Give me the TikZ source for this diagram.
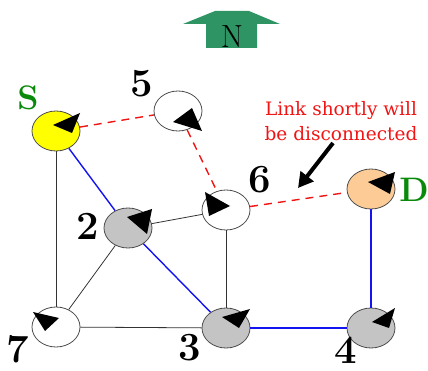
\documentclass[tikz,border=0pt]{standalone}
\usepackage{fontspec}
\newfontfamily\notefont{DejaVu Serif}
\usetikzlibrary{arrows.meta,shapes.geometric}
\definecolor{NorthGreen}{HTML}{2E9464}
\definecolor{LabelGreen}{HTML}{0A8A0A}
\definecolor{SourceYellow}{HTML}{FFFF00}
\definecolor{DestPeach}{HTML}{FCCB96}
\definecolor{HopGray}{HTML}{C4C4C4}
\definecolor{RouteBlue}{HTML}{1414F0}
\definecolor{BreakRed}{HTML}{F01414}

\begin{document}
\begin{tikzpicture}[
	x=1pt, y=-1pt,
	host/.style={
		draw=black!70,
		ellipse,
		minimum width=48pt,
		minimum height=40pt,
		inner sep=0pt,
		line width=0.8pt
	},
	idlabel/.style={font=\fontsize{40}{40}\selectfont\bfseries},
	endlabel/.style={font=\fontsize{34}{34}\selectfont\bfseries, text=LabelGreen},
	link/.style={draw=black!80, line width=0.8pt},
	route/.style={draw=RouteBlue, line width=1.4pt},
	breaking/.style={draw=BreakRed, line width=1.4pt, dash pattern=on 8pt off 6pt},
	heading/.style={fill=black}
]
\useasboundingbox (0,0) rectangle (428,371);

% north marker
\fill[NorthGreen] (206,48) -- (206,24) -- (183,24) -- (215,11) -- (249,11)
	-- (280,24) -- (257,24) -- (257,48) -- cycle;
\node[font=\fontsize{32}{32}\selectfont] (north) at (232,37) {N};

% hosts
\node[host, fill=SourceYellow] (s) at (56,131) {};
\node[host, fill=white] (n5) at (178,111) {};
\node[host, fill=DestPeach] (d) at (371,189) {};
\node[host, fill=white] (n6) at (226,210) {};
\node[host, fill=HopGray] (n2) at (128,228) {};
\node[host, fill=white] (n7) at (56,327) {};
\node[host, fill=HopGray] (n3) at (226,328) {};
\node[host, fill=HopGray] (n4) at (371,328) {};

% host names
\node[endlabel] (slabel) at (28,98) {S};
\node[endlabel] (dlabel) at (414,190) {D};
\node[idlabel] (l5) at (142,84) {5};
\node[idlabel] (l6) at (260,180) {6};
\node[idlabel] (l2) at (88,226) {2};
\node[idlabel] (l7) at (18,349) {7};
\node[idlabel] (l3) at (190,348) {3};
\node[idlabel] (l4) at (346,350) {4};

% links
\draw[link] (s) -- (n7);
\draw[link] (n7) -- (n3);
\draw[link] (n7) -- (n2);
\draw[link] (n2) -- (n6);
\draw[link] (n6) -- (n3);
\draw[route] (s) -- (n2);
\draw[route] (n2) -- (n3);
\draw[route] (n3) -- (n4);
\draw[route] (d) -- (n4);
\draw[breaking] (s) -- (n5);
\draw[breaking] (n5) -- (n6);
\draw[breaking] (n6) -- (d);

% headings
\fill[heading] (53,125) -- (80,113) -- (72,133) -- cycle;
\fill[heading] (173,122) -- (192,108) -- (202,131) -- cycle;
\fill[heading] (368,182) -- (395,172) -- (390,194) -- cycle;
\fill[heading] (205,192) -- (230,206) -- (209,216) -- cycle;
\fill[heading] (127,217) -- (152,209) -- (147,234) -- cycle;
\fill[heading] (33,312) -- (59,318) -- (45,331) -- cycle;
\fill[heading] (222,317) -- (250,309) -- (239,328) -- cycle;
\fill[heading] (372,322) -- (395,308) -- (389,328) -- cycle;

% warning
\node[text=BreakRed, align=center, font=\notefont\fontsize{18.5}{25}\selectfont] (warn) at (341,121)
	{Link shortly will\\be disconnected};
\coordinate (breakpt) at (298,188);
\draw[line width=4pt, -{Triangle[length=15pt, width=16pt]}] (333,143) -- (breakpt);

\end{tikzpicture}
\end{document}
